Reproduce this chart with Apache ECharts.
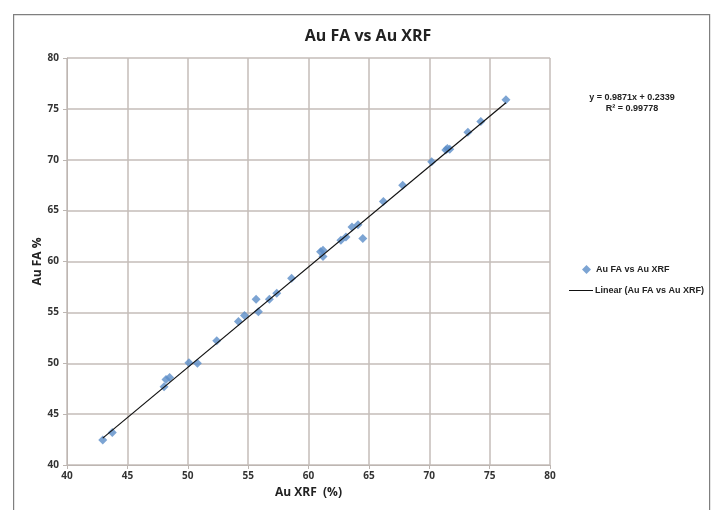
<!DOCTYPE html>
<html><head><meta charset="utf-8">
<script src="https://cdn.jsdelivr.net/npm/echarts@6/dist/echarts.min.js"></script>
<style>html,body{margin:0;padding:0;background:#fff}#c{width:712px;height:510px}</style>
</head><body><div id="c"></div>
<script>
const xrf = [42.96, 43.75, 48.04, 48.2, 48.5, 50.1, 50.8, 52.4, 54.2, 54.7, 55.66, 55.85, 56.76, 57.37, 58.6, 61.0, 61.2, 61.2, 62.68, 63.1, 63.6, 64.1, 64.5, 66.2, 67.8, 70.2, 71.37, 71.5, 71.7, 73.2, 74.27, 76.35];
const fa  = [42.46, 43.2, 47.7, 48.4, 48.6, 50.06, 50.0, 52.2, 54.1, 54.7, 56.3, 55.07, 56.3, 56.88, 58.36, 60.97, 61.1, 60.48, 62.1, 62.4, 63.4, 63.6, 62.25, 65.9, 67.5, 69.8, 70.97, 71.1, 71.04, 72.7, 73.76, 75.89];
const xTicks = [40, 45, 50, 55, 60, 65, 70, 75, 80];
const yTicks = [40, 45, 50, 55, 60, 65, 70, 75, 80];
const slope = 0.9871, intercept = 0.2339, r2 = 0.99778;
const trendX = [Math.min(...xrf), Math.max(...xrf)];

const font = '"Open Sans", sans-serif';
const small = '"Liberation Sans", Arial, sans-serif';
const pts = xrf.map((x, i) => [x, fa[i]]);
const trend = trendX.map(x => [x, slope * x + intercept]);
const chart = echarts.init(document.getElementById('c'));
chart.setOption({
  animation: false,
  backgroundColor: '#fff',
  title: { text: 'Au FA vs Au XRF', left: 363, top: 23, textAlign: 'center',
    textStyle: { fontFamily: font, fontWeight: 'bold', fontSize: 16, color: '#222' } },
  grid: { left: 67, right: 162, top: 58, bottom: 45 },
  xAxis: { type: 'value', min: 40, max: 80, interval: 5,
    name: 'Au XRF  (%)', nameLocation: 'middle', nameGap: 22,
    nameTextStyle: { fontFamily: font, fontWeight: 'bold', fontSize: 12, color: '#222' },
    axisLine: { lineStyle: { color: '#bdb6b2' } },
    axisTick: { show: true, length: 4, lineStyle: { color: '#bdb6b2' } },
    axisLabel: { fontFamily: font, fontWeight: 'bold', fontSize: 10, color: '#333', margin: 6,
      formatter: v => xTicks.includes(v) ? String(v) : '' },
    splitLine: { lineStyle: { color: '#c4bdb9', width: 1.5 } } },
  yAxis: { type: 'value', min: 40, max: 80, interval: 5,
    name: 'Au FA %', nameLocation: 'middle', nameGap: 23, nameRotate: 90, nameMoveOverlap: false,
    nameTextStyle: { fontFamily: font, fontWeight: 'bold', fontSize: 12, color: '#222' },
    axisLine: { show: true, lineStyle: { color: '#bdb6b2' } },
    axisTick: { show: true, length: 4, lineStyle: { color: '#bdb6b2' } },
    axisLabel: { fontFamily: font, fontWeight: 'bold', fontSize: 10, color: '#333', margin: 8,
      formatter: v => yTicks.includes(v) ? String(v) : '' },
    splitLine: { lineStyle: { color: '#c4bdb9', width: 1.5 } } },
  legend: [
    { data: [{ name: 'Au FA vs Au XRF', icon: 'diamond' }], orient: 'vertical', left: 582, top: 265,
      padding: 0, itemWidth: 9, itemHeight: 9, itemGap: 6,
      textStyle: { fontFamily: small, fontWeight: 'bold', fontSize: 9, color: '#222' } },
    { data: [{ name: 'Linear (Au FA vs Au XRF)', icon: 'rect' }], orient: 'vertical', left: 569, top: 286,
      padding: 0, itemWidth: 24, itemHeight: 1, itemGap: 6,
      textStyle: { fontFamily: small, fontWeight: 'bold', fontSize: 9, color: '#222', padding: [0, 0, 0, -3] } }
  ],
  graphic: [
    { type: 'rect', left: 13, top: 14, z: -10, silent: true,
      shape: { width: 696, height: 510 }, style: { fill: '#fff', stroke: '#7f7f7f', lineWidth: 1.2 } },
    { type: 'text', position: [632, 98], silent: true,
      style: { text: 'y = ' + slope + 'x + ' + intercept, x: 0, y: 0, textAlign: 'center', textVerticalAlign: 'middle',
        font: 'bold 9px ' + small, fill: '#222' } },
    { type: 'text', position: [632, 109], silent: true,
      style: { text: 'R² = ' + r2, x: 0, y: 0, textAlign: 'center', textVerticalAlign: 'middle',
        font: 'bold 9px ' + small, fill: '#222' } }
  ],
  series: [
    { name: 'Au FA vs Au XRF', type: 'scatter', data: pts, symbol: 'diamond', symbolSize: 9,
      itemStyle: { color: '#5b8dc8' }, z: 3 },
    { name: 'Linear (Au FA vs Au XRF)', type: 'line', data: trend, showSymbol: false, symbol: 'none',
      lineStyle: { color: '#111', width: 1.2 }, itemStyle: { color: '#111' }, z: 4 }
  ]
});
</script></body></html>
